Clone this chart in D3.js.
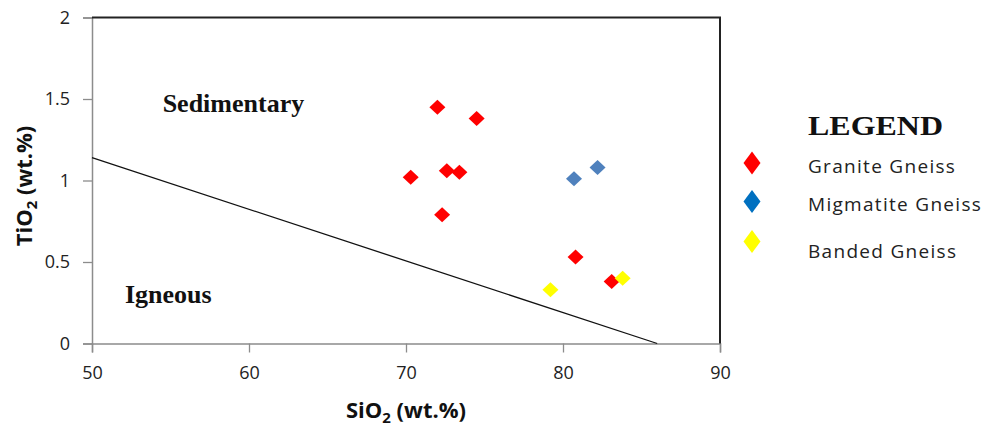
<!DOCTYPE html>
<html><head><meta charset="utf-8">
<script src="https://cdn.jsdelivr.net/npm/d3@7"></script>
<style>body{margin:0;background:#fff}svg{display:block}</style>
</head><body>
<svg id="c" width="990" height="427"></svg>
<script>
const xTicks = [50, 60, 70, 80, 90];
const yTicks = [0, 0.5, 1, 1.5, 2];
const yTickLabels = ["0", "0.5", "1", "1.5", "2"];
const seriesNames = ["Granite Gneiss", "Migmatite Gneiss", "Banded Gneiss"];
const seriesColors = ["#ff0000", "#4f81bd", "#ffff00"];
const legendColors = ["#ff0000", "#0070c0", "#ffff00"];
const graniteSiO2 = [72.0, 74.5, 70.3, 72.6, 73.4, 72.3, 80.8, 83.1];
const graniteTiO2 = [1.45, 1.38, 1.02, 1.06, 1.05, 0.79, 0.53, 0.38];
const migmatiteSiO2 = [80.7, 82.2];
const migmatiteTiO2 = [1.01, 1.08];
const bandedSiO2 = [79.2, 83.8];
const bandedTiO2 = [0.33, 0.40];
const boundarySiO2 = [50, 86];
const boundaryTiO2 = [1.14, 0];
const regionLabels = ["Sedimentary", "Igneous"];
const regionSiO2 = [54.5, 52.1];
const regionTiO2 = [1.42, 0.25];

const svg = d3.select("#c");
const x = d3.scaleLinear().domain([50, 90]).range([92, 720]);
const y = d3.scaleLinear().domain([0, 2]).range([343.5, 17.5]);
const sans = "'Open Sans', Lato, sans-serif";
const serif = "'Liberation Serif', 'DejaVu Serif', serif";

// axes
const xAxis = svg.append("g").attr("transform", "translate(0,343.5)")
  .call(d3.axisBottom(x).tickValues(xTicks).tickSize(9).tickPadding(14).tickFormat(d3.format("d")));
const yAxis = svg.append("g").attr("transform", "translate(92,0)")
  .call(d3.axisLeft(y).tickValues(yTicks).tickSize(9).tickPadding(13).tickFormat((d, i) => yTickLabels[i]));
[xAxis, yAxis].forEach(a => {
  a.select(".domain").attr("stroke", "#8c8c8c").attr("stroke-width", 1.5);
  a.selectAll(".tick line").attr("stroke", "#8c8c8c").attr("stroke-width", 1.3);
  a.selectAll("text").attr("fill", "#222").style("font-family", sans).style("font-size", "18px");
});
xAxis.selectAll("text").attr("dy", "0.71em");

// top & right frame
svg.append("path")
  .attr("d", d3.line()([[x(50), y(2)], [x(90), y(2)], [x(90), y(0)]]))
  .attr("fill", "none").attr("stroke", "#222").attr("stroke-width", 2);

// boundary line
svg.append("path")
  .attr("d", d3.line()(boundarySiO2.map((v, i) => [x(v), y(boundaryTiO2[i])])))
  .attr("stroke", "#111").attr("stroke-width", 1.3).attr("fill", "none");

// region labels
svg.selectAll(".region").data(regionLabels).join("text")
  .attr("x", (d, i) => x(regionSiO2[i])).attr("y", (d, i) => y(regionTiO2[i]))
  .attr("font-family", serif).attr("font-weight", "bold").attr("font-size", 26)
  .attr("fill", "#111").text(d => d);

// points
const diamond = (cx, cy, hw, hh) => `M${cx},${cy - hh}L${cx + hw},${cy}L${cx},${cy + hh}L${cx - hw},${cy}Z`;
const series = [
  [graniteSiO2, graniteTiO2],
  [migmatiteSiO2, migmatiteTiO2],
  [bandedSiO2, bandedTiO2]
];
series.forEach((s, k) => {
  svg.append("g").selectAll("path").data(s[0]).join("path")
    .attr("d", (d, i) => diamond(x(d), y(s[1][i]), 8, 7.5))
    .attr("fill", seriesColors[k]);
});

// axis titles
const xt = svg.append("text").attr("x", 406).attr("y", 418).attr("text-anchor", "middle")
  .attr("font-family", sans).attr("font-weight", "bold").attr("font-size", 22).attr("fill", "#111");
xt.append("tspan").text("SiO");
xt.append("tspan").attr("font-size", 15).attr("dy", 5).text("2");
xt.append("tspan").attr("dy", -5).text(" (wt.%)");

const yt = svg.append("text").attr("transform", "translate(32,186) rotate(-90)").attr("text-anchor", "middle")
  .attr("font-family", sans).attr("font-weight", "bold").attr("font-size", 22).attr("fill", "#111");
yt.append("tspan").text("TiO");
yt.append("tspan").attr("font-size", 15).attr("dy", 5).text("2");
yt.append("tspan").attr("dy", -5).text(" (wt.%)");

// legend
svg.append("text").attr("x", 808).attr("y", 135).attr("font-family", serif).attr("font-weight", "bold")
  .attr("font-size", 28).attr("fill", "#111").attr("textLength", 135).attr("lengthAdjust", "spacingAndGlyphs")
  .text("LEGEND");
const legMarkY = [163, 201.5, 241.5];
const legTextY = [172.5, 211, 257.5];
seriesNames.forEach((n, i) => {
  svg.append("path").attr("d", diamond(752, legMarkY[i], 8.5, 11.5)).attr("fill", legendColors[i]);
  svg.append("text").attr("x", 808).attr("y", legTextY[i]).attr("font-family", sans)
    .attr("font-size", 19).attr("letter-spacing", 1.3).attr("fill", "#222").text(n);
});
</script>
</body></html>
